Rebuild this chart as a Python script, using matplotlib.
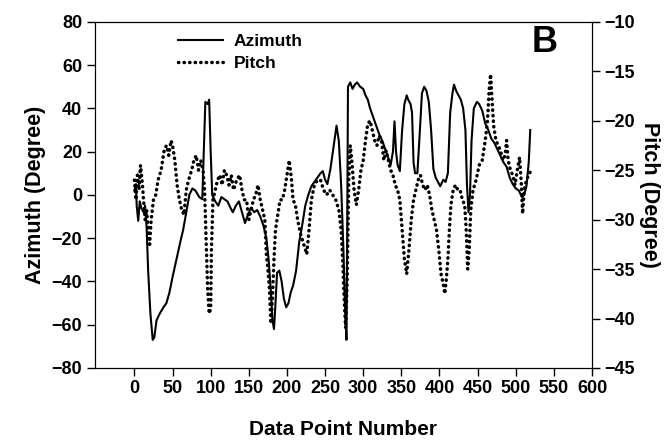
import matplotlib
matplotlib.use("Agg")
import matplotlib.pyplot as plt
from matplotlib import font_manager

# pick a narrow bold face if there is one, the scan is squeezed sideways
names = {f.name for f in font_manager.fontManager.ttflist}
if "Liberation Sans Narrow" in names:
    plt.rcParams["font.family"] = ["Liberation Sans Narrow", "DejaVu Sans"]
else:
    plt.rcParams["font.family"] = ["Liberation Sans", "DejaVu Sans"]
plt.rcParams["font.weight"] = "bold"

# azimuth (left axis)
az_x = [0, 2, 3, 5, 7, 9, 12, 14, 16, 18, 21, 24, 26, 29, 33, 38, 42, 46, 50, 55,
        60, 64, 68, 72, 76, 80, 85, 89, 91, 93, 96, 98, 100, 102, 106, 110, 114, 118,
        122, 126, 129, 133, 137, 141, 145, 149, 153, 157, 161, 165, 169, 173, 176, 179,
        181, 183, 185, 187, 190, 193, 196, 199, 202, 205, 208, 212, 216, 220, 224, 228,
        232, 236, 240, 244, 247, 250, 253, 257, 261, 265, 268, 271, 274, 276, 278, 279,
        280, 283, 286, 289, 292, 296, 300, 303, 306, 309, 313, 317, 321, 325, 329, 333,
        336, 339, 341, 343, 345, 348, 351, 354, 357, 359, 362, 364, 366, 368, 371, 374,
        377, 380, 383, 386, 389, 392, 395, 398, 401, 405, 408, 411, 414, 417, 419, 422,
        425, 428, 431, 434, 436, 438, 440, 442, 445, 449, 452, 456, 460, 464, 468, 472,
        476, 480, 484, 488, 492, 496, 500, 504, 508, 511, 514, 517, 519]
az_y = [2, 5, -5, -12, -3, -6, -8, -5, -15, -35, -55, -67, -66, -58, -55, -52, -50, -45, -38, -30,
        -22, -16, -8, 0, 3, 2, -1, -2, 20, 43, 42, 44, 20, 0, -3, -5, -1, -2,
        -3, -6, -8, -5, -3, -8, -13, -9, -6, -8, -7, -10, -14, -20, -30, -45,
        -58, -62, -50, -36, -35, -40, -48, -52, -50, -45, -42, -35, -22, -14, -5, 0,
        4, 6, 8, 10, 11, 7, 5, 12, 22, 32, 25, 5, -25, -50, -67, -20,
        50, 52, 49, 51, 52, 50, 49, 46, 44, 40, 36, 32, 28, 25, 21, 17,
        14, 20, 34, 20, 14, 11, 30, 42, 46, 44, 42, 38, 15, 10, 10, 28,
        47, 50, 48, 43, 30, 12, 8, 6, 4, 7, 6, 10, 38, 47, 51, 48,
        46, 44, 40, 30, 5, -8, 0, 25, 40, 43, 42, 39, 33, 30, 26, 24,
        21, 18, 15, 13, 8, 5, 3, 2, -1, 0, 4, 15, 30]

# pitch (right axis)
pitch_x = [0, 2, 4, 6, 8, 10, 12, 14, 16, 18, 20, 22, 25, 28, 31, 35, 39, 42, 45, 48,
           50, 53, 56, 59, 62, 65, 68, 71, 75, 78, 81, 84, 87, 90, 92, 94, 96, 98, 100,
           101, 103, 106, 109, 112, 115, 118, 121, 124, 127, 130, 134, 138, 141, 144,
           147, 150, 153, 156, 159, 162, 165, 168, 171, 173, 175, 177, 179, 181, 183,
           185, 188, 191, 194, 197, 200, 203, 206, 208, 211, 214, 218, 222, 226, 229,
           232, 236, 240, 244, 248, 252, 256, 260, 264, 268, 271, 273, 275, 277, 279,
           281, 283, 285, 288, 291, 294, 297, 300, 303, 306, 309, 312, 315, 318, 321,
           324, 327, 330, 333, 336, 339, 342, 345, 348, 351, 354, 357, 360, 363, 366,
           369, 372, 375, 378, 381, 384, 387, 390, 393, 396, 399, 402, 405, 407, 409,
           411, 413, 415, 418, 421, 424, 427, 430, 433, 435, 437, 439, 441, 444, 448,
           452, 456, 460, 463, 465, 467, 469, 471, 474, 477, 480, 483, 486, 488, 490,
           493, 496, 499, 502, 505, 507, 509, 511, 514, 517, 520]
pitch_y = [-26, -28, -25.5, -27, -24.5, -26, -28, -30, -29, -31, -32.5, -30, -28, -27.5, -26, -25, -23, -22.5, -23.5, -22,
           -22.5, -24, -26.5, -28, -29, -29.5, -27, -26, -25, -24, -23.5, -25, -24, -25, -27, -32, -37, -39.5, -39,
           -33, -28, -27, -26, -25.5, -26.5, -25, -25.5, -26.5, -25.5, -27, -26, -25.5, -27, -28,
           -28, -30, -29, -28, -27.5, -26.5, -28, -29, -30, -33.5, -35, -37, -40.5, -38, -34,
           -31, -29.5, -28, -28, -27, -25.5, -24, -26, -28, -28.5, -30, -31.5, -32.5, -33.5, -31,
           -28, -26.5, -26, -26, -27, -27.5, -27, -27.5, -28, -29, -31, -34, -38, -41, -36,
           -26, -22.5, -24, -27, -28.5, -27, -25, -24, -22, -20.3, -20, -21, -22, -22.5, -21.5,
           -22, -24, -23, -24, -25, -25.5, -26.5, -27, -28, -31, -34, -35.5, -33, -30, -28,
           -27, -26, -25.5, -26.5, -27, -26.5, -27.5, -29, -30, -31, -33, -35.5, -36.5, -37.5, -36,
           -34, -31, -28.5, -27, -26.5, -27, -27, -28, -28.5, -31, -35, -33, -29, -27, -26,
           -24.5, -24, -22, -20, -17, -15.3, -18, -20.5, -22, -22.5, -23, -24, -23.5, -22, -24,
           -25, -25.5, -26.5, -25, -23.7, -26, -29.4, -27, -26, -25.5, -25]

left_ticks = list(range(-80, 81, 20))
right_ticks = list(range(-45, -9, 5))
x_ticks = list(range(0, 601, 50))

fig = plt.figure(figsize=(6.72, 4.46), dpi=100)
ax = fig.add_axes([0.141, 0.175, 0.740, 0.776])
ax2 = ax.twinx()

l1, = ax.plot(az_x, az_y, color="black", lw=1.5, label="Azimuth")
l2, = ax2.plot(pitch_x, pitch_y, color="black", lw=2.5, linestyle=(0, (0.1, 1.5)),
               dash_capstyle="round", label="Pitch")

ax.set_xlim(-52, 600)
ax.set_ylim(-80, 80)
ax2.set_ylim(-45, -10)
ax.set_xticks(x_ticks)
ax.set_yticks(left_ticks)
ax2.set_yticks(right_ticks)

ax.tick_params(axis="both", direction="out", length=6, width=1, labelsize=13, pad=3)
ax2.tick_params(axis="y", direction="out", length=6, width=1, labelsize=13, pad=3)
for t in ax.get_xticklabels() + ax.get_yticklabels() + ax2.get_yticklabels():
    t.set_fontweight("bold")

ax.set_xlabel("Data Point Number", fontsize=15, fontweight="bold", labelpad=16)
ax.set_ylabel("Azimuth (Degree)", fontsize=15.5, fontweight="bold", labelpad=4)
ax2.set_ylabel("Pitch (Degree)", fontsize=15.5, fontweight="bold", rotation=-90, labelpad=18)

ax.text(0.878, 0.99, "B", transform=ax.transAxes, fontsize=26, fontweight="bold",
        ha="left", va="top")

ax.legend(handles=[l1, l2], loc="upper left", bbox_to_anchor=(0.135, 1.01), frameon=False,
          handlelength=2.6, handletextpad=0.65, labelspacing=0.4,
          prop={"size": 12.5, "weight": "bold"})

fig.savefig("out.png", dpi=100)
